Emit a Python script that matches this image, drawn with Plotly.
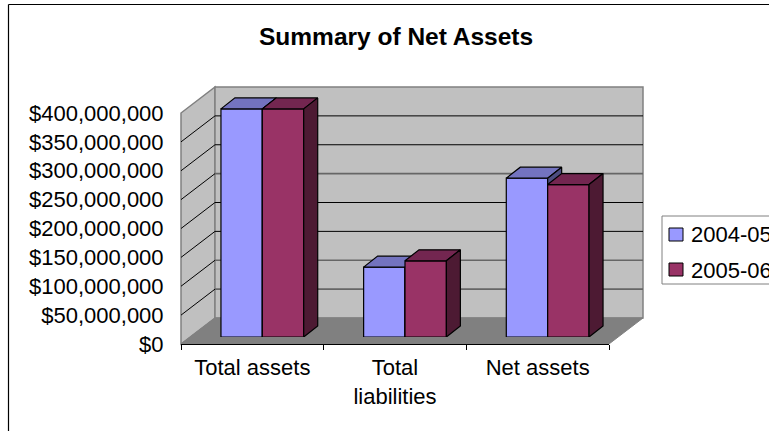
import plotly.graph_objects as go

W, H = 769, 431

# Chart data
categories = ["Total assets", "Total<br>liabilities", "Net assets"]
series_names = ["2004-05", "2005-06"]
values_2004_05 = [395e6, 121e6, 275e6]
values_2005_06 = [395e6, 132e6, 264e6]
axis_ticks = [0, 50e6, 100e6, 150e6, 200e6, 250e6, 300e6, 350e6, 400e6]

# Palette per series: front, top, side
front_colors = ["#9999FF", "#993366"]
top_colors = ["#7373BF", "#732650"]
side_colors = ["#4D4D80", "#4D1A33"]

# Projection geometry in pixels
AX_L, AX_R, AX_B, AX_T = 181, 609, 344, 113
DEPTH_X, DEPTH_Y = 34, 26
BAR_SHIFT_X, BAR_SHIFT_Y = 10, 7
BAR_DEPTH_X, BAR_DEPTH_Y = 14, 11
BAR_WIDTH = 0.29
FONT = "Liberation Sans, Arial, sans-serif"
FS = 22

px_per_val = (AX_B - AX_T) / 400e6
px_per_cat = (AX_R - AX_L) / 3
dx_cat = BAR_DEPTH_X / px_per_cat
dy_val = BAR_DEPTH_Y / px_per_val
bar_axis_max = 450e6


def fx(p):
    return p / W


def fy(p):
    return 1 - p / H


def poly(points, fill, line="#808080", width=1):
    path = "M" + " L".join(f"{fx(x):.5f},{fy(y):.5f}" for x, y in points) + " Z"
    return dict(type="path", xref="paper", yref="paper", path=path, fillcolor=fill,
                line=dict(color=line, width=width), layer="below")


def seg(x0, y0, x1, y1, color="black", width=1):
    return dict(type="line", xref="paper", yref="paper", x0=fx(x0), y0=fy(y0), x1=fx(x1), y1=fy(y1),
                line=dict(color=color, width=width), layer="below")


shapes = []
# Outer chart frame
shapes.append(seg(8.5, 4.5, W + 2, 4.5, "black", 1.2))
shapes.append(seg(8.5, 4.5, 8.5, H + 2, "black", 1.2))

# Walls and floor
shapes.append(poly([(AX_L, AX_T), (AX_L + DEPTH_X, AX_T - DEPTH_Y), (AX_L + DEPTH_X, AX_B - DEPTH_Y), (AX_L, AX_B)], "#C0C0C0", width=1.5))
shapes.append(poly([(AX_L + DEPTH_X, AX_T - DEPTH_Y), (AX_R + DEPTH_X, AX_T - DEPTH_Y), (AX_R + DEPTH_X, AX_B - DEPTH_Y), (AX_L + DEPTH_X, AX_B - DEPTH_Y)], "#C0C0C0", width=1.5))
shapes.append(poly([(AX_L, AX_B), (AX_L + DEPTH_X, AX_B - DEPTH_Y), (AX_R + DEPTH_X, AX_B - DEPTH_Y), (AX_R, AX_B)], "#808080", width=1))

# Gridlines on the back and left walls
grid_black = {50e6, 100e6, 200e6, 250e6}
for t in axis_ticks[1:-1]:
    y = AX_B - t * px_per_val
    strong = (400e6 - t) in grid_black
    shapes.append(seg(AX_L + DEPTH_X, y - DEPTH_Y, AX_R + DEPTH_X, y - DEPTH_Y,
                      "black" if strong else "#666666", 1 if strong else 1.6))
    shapes.append(seg(AX_L, y, AX_L + DEPTH_X, y - DEPTH_Y, "black", 1))

# Legend box
LEG_X, LEG_T, LEG_B = 662, 216, 284
shapes.append(dict(type="rect", xref="paper", yref="paper", x0=fx(LEG_X), x1=fx(W + 10), y0=fy(LEG_B), y1=fy(LEG_T),
                   fillcolor="white", line=dict(color="#808080", width=1), layer="below"))
annotations = []
for i, (name, ytop) in enumerate(zip(series_names, [228, 263])):
    shapes.append(dict(type="rect", xref="paper", yref="paper", x0=fx(669), x1=fx(683), y0=fy(ytop + 13), y1=fy(ytop),
                       fillcolor=front_colors[i], line=dict(color="black", width=1), layer="below"))
    annotations.append(dict(xref="paper", yref="paper", x=fx(690), y=fy(ytop + 7), text=name, showarrow=False,
                            xanchor="left", yanchor="middle", xshift=-1, font=dict(family=FONT, size=FS, color="black")))

fig = go.Figure()

# Carries the category axis and its labels
fig.add_trace(go.Scatter(x=categories, y=[0, 0, 0], mode="none", xaxis="x", yaxis="y",
                         showlegend=False, hoverinfo="skip"))

series = [values_2004_05, values_2005_06]
for s, vals in enumerate(series):
    xa, ya = f"x{s + 2}", f"y{s + 2}"
    offset = -BAR_WIDTH if s == 0 else 0
    fig.add_trace(go.Bar(x=[0, 1, 2], y=vals, width=BAR_WIDTH, offset=offset, xaxis=xa, yaxis=ya,
                         name=series_names[s], marker=dict(color=front_colors[s], line=dict(color="black", width=1.2)),
                         showlegend=False))
    for c, v in enumerate(vals):
        x0 = c + offset
        x1 = x0 + BAR_WIDTH
        # Top face
        fig.add_trace(go.Scatter(x=[x0, x1, x1 + dx_cat, x0 + dx_cat, x0], y=[v, v, v + dy_val, v + dy_val, v],
                                 mode="lines", fill="toself", fillcolor=top_colors[s], xaxis=xa, yaxis=ya,
                                 line=dict(color="black", width=1.2), showlegend=False, hoverinfo="skip"))
        # Right side face
        fig.add_trace(go.Scatter(x=[x1, x1 + dx_cat, x1 + dx_cat, x1, x1], y=[v, v + dy_val, dy_val, 0, v],
                                 mode="lines", fill="toself", fillcolor=side_colors[s], xaxis=xa, yaxis=ya,
                                 line=dict(color="black", width=1.2), showlegend=False, hoverinfo="skip"))

bars_dom_x = [fx(AX_L + BAR_SHIFT_X), fx(AX_R + BAR_SHIFT_X)]
bars_dom_y = [fy(AX_B - BAR_SHIFT_Y), fy(AX_B - BAR_SHIFT_Y - bar_axis_max * px_per_val)]
hidden_x = dict(domain=bars_dom_x, range=[-0.5, 2.5], visible=False, fixedrange=True, anchor="free", position=0)
hidden_y = dict(domain=bars_dom_y, range=[0, bar_axis_max], visible=False, fixedrange=True, anchor="free", position=0)

fig.update_layout(
    width=W, height=H,
    margin=dict(l=0, r=0, t=0, b=0),
    paper_bgcolor="white", plot_bgcolor="rgba(0,0,0,0)",
    showlegend=False,
    font=dict(family=FONT, size=FS, color="black"),
    shapes=shapes,
    annotations=annotations + [dict(xref="paper", yref="paper", x=fx(396), y=fy(36), text="<b>Summary of Net Assets</b>",
                                    showarrow=False, xanchor="center", yanchor="middle",
                                    font=dict(family=FONT, size=24.5, color="black"))],
    xaxis=dict(domain=[fx(AX_L), fx(AX_R)], type="category", categoryorder="array", categoryarray=categories,
               range=[-0.5, 2.5], tickson="boundaries", ticks="outside", ticklen=5, tickcolor="black", tickwidth=1,
               showline=True, linecolor="black", linewidth=1, showgrid=False, fixedrange=True,
               ticklabelstandoff=4, tickfont=dict(family=FONT, size=FS), tickangle=0, automargin=False),
    yaxis=dict(domain=[fy(AX_B), fy(AX_T)], range=[0, 400e6], tickmode="array", tickvals=axis_ticks,
               tickformat="$,.0f", ticks="outside", ticklen=12, tickcolor="rgba(0,0,0,0)",
               showline=False, showgrid=False, zeroline=False, fixedrange=True,
               tickfont=dict(family=FONT, size=FS), automargin=False),
    xaxis2=dict(**hidden_x), yaxis2=dict(**hidden_y),
    xaxis3=dict(**hidden_x, overlaying="x2"), yaxis3=dict(**hidden_y, overlaying="y2"),
)

fig.write_html("out.html", config=dict(displayModeBar=False))
